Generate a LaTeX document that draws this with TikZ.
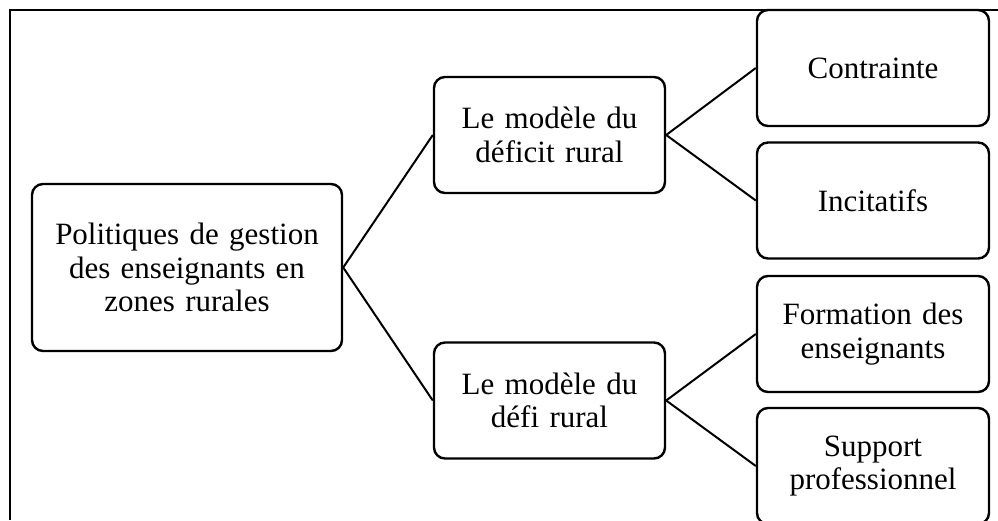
\documentclass[tikz,border=0pt]{standalone}
\usepackage{fontspec}
\setmainfont{Liberation Serif}
\begin{document}
\begin{tikzpicture}[x=1pt,y=-1pt,
  box/.style={draw=black, line width=2.4pt, rounded corners=11pt, fill=white,
    align=center, inner sep=0pt, font=\fontsize{31}{33.5}\selectfont},
  rootbox/.style={box, minimum width=310pt, minimum height=167pt, text width=300pt},
  midbox/.style={box, minimum width=231pt, minimum height=116pt, text width=225pt},
  leafbox/.style={box, minimum width=232pt, minimum height=116pt, text width=226pt},
  link/.style={draw=black, line width=2pt}]
  \useasboundingbox (0,0) rectangle (998,520);
  % outer frame (left and top edges)
  \coordinate (fbl) at (10,520);
  \coordinate (ftl) at (10,10);
  \coordinate (ftr) at (998,10);
  \draw[line width=1.8pt] (fbl) -- (ftl) -- (ftr);

  % tree nodes
  \node[rootbox] (root) at (187,267.5) {Politiques de gestion\\des enseignants en\\zones rurales};
  \node[midbox] (deficit) at (549.5,135) {Le modèle du\\déficit rural};
  \node[midbox] (defi) at (549.5,400.5) {Le modèle du\\défi rural};
  \node[leafbox] (contr) at (873,68) {Contrainte};
  \node[leafbox] (incit) at (873,200.5) {Incitatifs};
  \node[leafbox] (form) at (873,334) {Formation des\\enseignants};
  \node[leafbox] (supp) at (873,466) {Support\\professionnel};

  % branches
  \draw[link] (root.east) -- (deficit.west);
  \draw[link] (root.east) -- (defi.west);
  \draw[link] (deficit.east) -- (contr.west);
  \draw[link] (deficit.east) -- (incit.west);
  \draw[link] (defi.east) -- (form.west);
  \draw[link] (defi.east) -- (supp.west);
\end{tikzpicture}
\end{document}
